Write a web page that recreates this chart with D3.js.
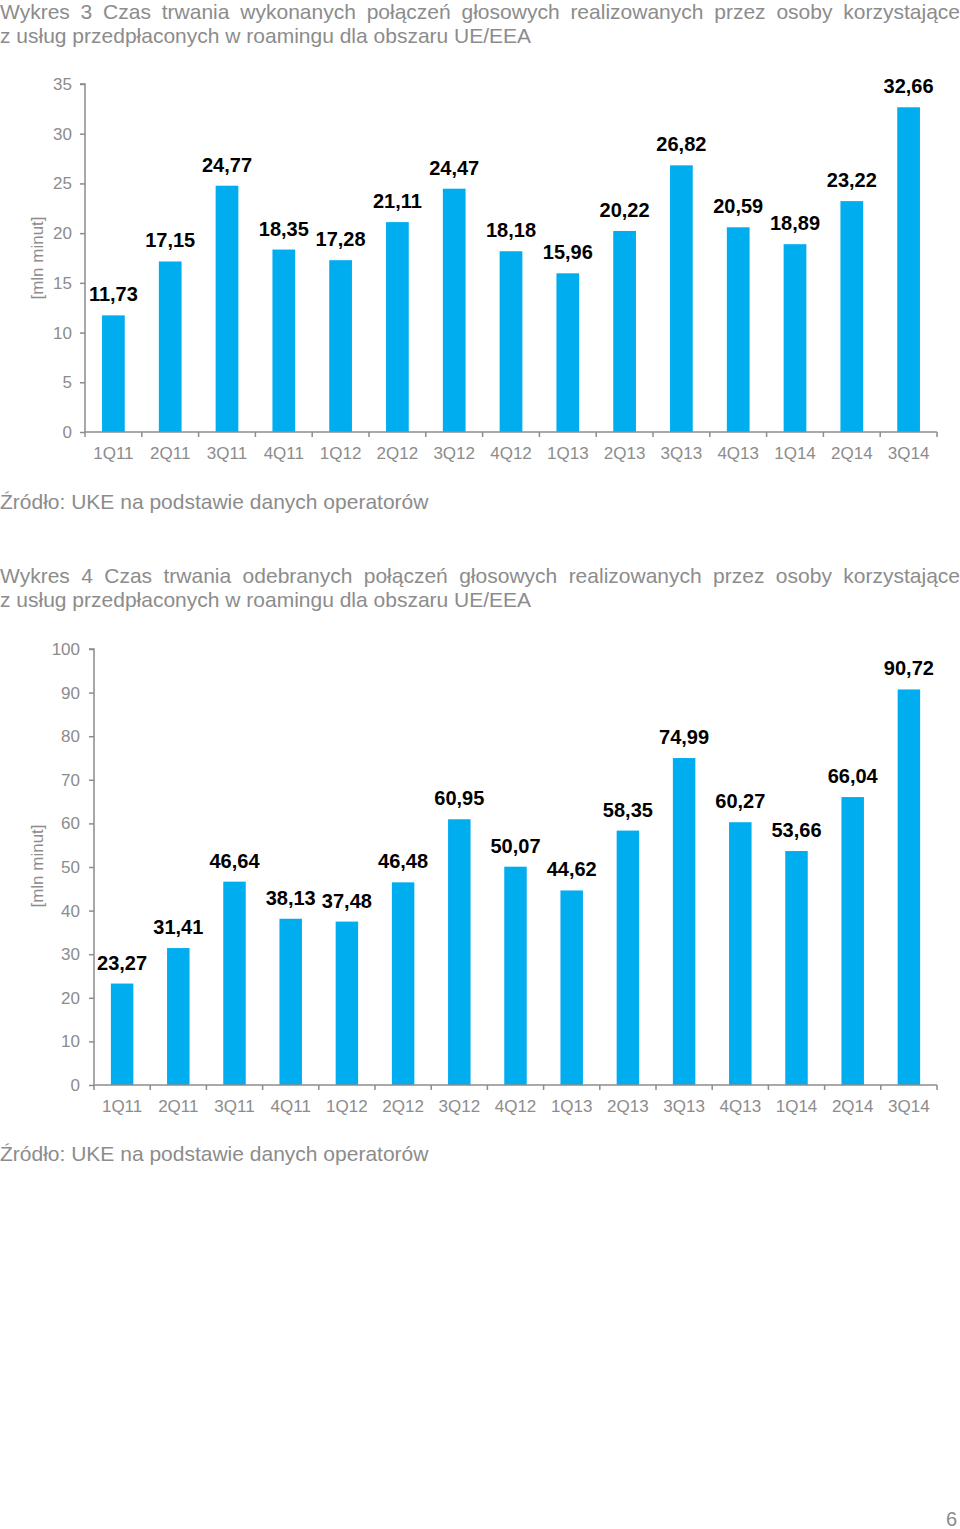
<!DOCTYPE html>
<html><head><meta charset="utf-8">
<script src="https://cdn.jsdelivr.net/npm/d3@7"></script>
<style>body{margin:0;background:#fff}svg{display:block}</style>
</head><body>
<svg id="c" width="960" height="1529"></svg>
<script>
const categories = ["1Q11","2Q11","3Q11","4Q11","1Q12","2Q12","3Q12","4Q12","1Q13","2Q13","3Q13","4Q13","1Q14","2Q14","3Q14"];
const madeValues = [11.73,17.15,24.77,18.35,17.28,21.11,24.47,18.18,15.96,20.22,26.82,20.59,18.89,23.22,32.66];
const receivedValues = [23.27,31.41,46.64,38.13,37.48,46.48,60.95,50.07,44.62,58.35,74.99,60.27,53.66,66.04,90.72];
const madeTicks = [0,5,10,15,20,25,30,35];
const receivedTicks = [0,10,20,30,40,50,60,70,80,90,100];
const title1 = ["Wykres 3 Czas trwania wykonanych połączeń głosowych realizowanych przez osoby korzystające","z usług przedpłaconych w roamingu dla obszaru UE/EEA"];
const title2 = ["Wykres 4 Czas trwania odebranych połączeń głosowych realizowanych przez osoby korzystające","z usług przedpłaconych w roamingu dla obszaru UE/EEA"];
const sourceText = "Źródło: UKE na podstawie danych operatorów";
const yTitle = "[mln minut]";
const pageNumber = "6";

const svg = d3.select("#c");
const FONT = "'Liberation Sans', Arial, sans-serif";
const GRAY = "#8c8c8c";
const fmt = v => v.toFixed(2).replace(".", ",");

function justifiedLine(text, y, width) {
  const words = text.split(" ");
  const g = svg.append("g").attr("font-family", FONT).attr("font-size", 21).attr("fill", GRAY);
  const nodes = words.map(w => g.append("text").attr("y", y).text(w));
  const widths = nodes.map(n => n.node().getComputedTextLength());
  const total = d3.sum(widths);
  const gap = (width - total) / (words.length - 1);
  let x = 0;
  nodes.forEach((n, i) => { n.attr("x", x); x += widths[i] + gap; });
}
function plainLine(text, y, x) {
  svg.append("text").attr("x", x || 0).attr("y", y).attr("font-family", FONT)
    .attr("font-size", 21).attr("fill", GRAY).text(text);
}

function chart(cfg) {
  const x = d3.scaleBand().domain(categories).range([cfg.x0, cfg.x1]).padding(0);
  const y = d3.scaleLinear().domain([0, cfg.max]).range([cfg.yBottom, cfg.yTop]);
  const g = svg.append("g");
  const bw = x.bandwidth() * 0.4;
  g.selectAll("rect.bar").data(cfg.values).join("rect")
    .attr("x", (d, i) => x(categories[i]) + (x.bandwidth() - bw) / 2)
    .attr("y", d => y(d))
    .attr("width", bw)
    .attr("height", d => y(0) - y(d))
    .attr("fill", "#00adef");
  const ya = g.append("g").attr("transform", `translate(${cfg.x0},0)`)
    .call(d3.axisLeft(y).tickValues(cfg.ticks).tickSize(5).tickPadding(cfg.tickPad).tickFormat(d3.format("d")));
  ya.selectAll("path,line").attr("stroke", GRAY).attr("stroke-width", 1.5);
  ya.select("path").attr("d", `M-5,${y(cfg.max)}H0V${y(0)}`);
  ya.selectAll("text").attr("font-family", FONT).attr("font-size", 17).attr("fill", GRAY);
  const xa = g.append("g");
  xa.append("line").attr("x1", cfg.x0).attr("x2", cfg.x1).attr("y1", y(0)).attr("y2", y(0))
    .attr("stroke", GRAY).attr("stroke-width", 1.5);
  const bounds = categories.map(c => x(c)).concat([cfg.x1]);
  xa.selectAll("line.t").data(bounds).join("line")
    .attr("x1", d => d).attr("x2", d => d).attr("y1", y(0)).attr("y2", y(0) + 5)
    .attr("stroke", GRAY).attr("stroke-width", 1.5);
  xa.selectAll("text").data(categories).join("text")
    .attr("x", d => x(d) + x.bandwidth() / 2).attr("y", y(0) + 27)
    .attr("text-anchor", "middle").attr("font-family", FONT).attr("font-size", 17)
    .attr("fill", GRAY).text(d => d);
  g.selectAll("text.v").data(cfg.values).join("text")
    .attr("x", (d, i) => x(categories[i]) + x.bandwidth() / 2)
    .attr("y", d => y(d) - 14)
    .attr("text-anchor", "middle").attr("font-family", FONT).attr("font-size", 20)
    .attr("font-weight", "bold").attr("fill", "#000").text(fmt);
  g.append("text").attr("transform", `translate(${cfg.yTitleX},${cfg.yTitleY}) rotate(-90)`)
    .attr("text-anchor", "middle").attr("dy", "0.35em").attr("font-family", FONT)
    .attr("font-size", 17).attr("fill", GRAY).text(yTitle);
}

justifiedLine(title1[0], 19, 960);
plainLine(title1[1], 43);
chart({values: madeValues, ticks: madeTicks, max: 35, x0: 85, x1: 937, yTop: 84, yBottom: 432,
  tickPad: 8, yTitleX: 37, yTitleY: 258});
plainLine(sourceText, 509);

justifiedLine(title2[0], 583, 960);
plainLine(title2[1], 607);
chart({values: receivedValues, ticks: receivedTicks, max: 100, x0: 94, x1: 937, yTop: 649, yBottom: 1085,
  tickPad: 9, yTitleX: 37, yTitleY: 866});
plainLine(sourceText, 1161);

svg.append("text").attr("x", 957).attr("y", 1526).attr("text-anchor", "end")
  .attr("font-family", FONT).attr("font-size", 20).attr("fill", GRAY).text(pageNumber);
</script>
</body></html>
